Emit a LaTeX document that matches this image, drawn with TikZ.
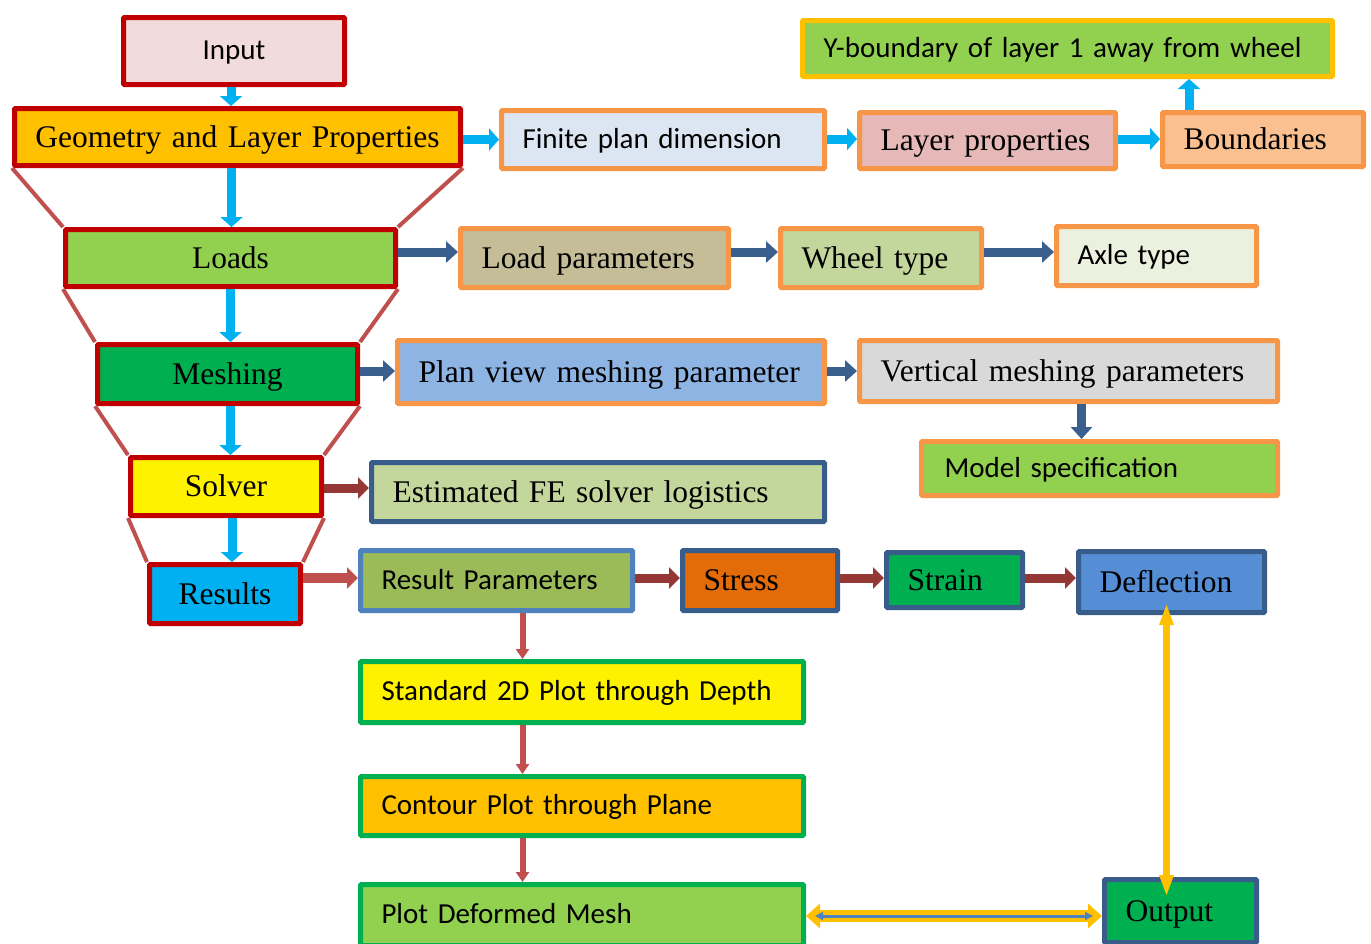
\documentclass[tikz,border=0pt]{standalone}
\usepackage{fontspec}
\setmainfont{Liberation Serif}
\newfontfamily\calib{Carlito}
\usetikzlibrary{arrows.meta}
\definecolor{redB}{HTML}{C00000}
\definecolor{orB}{HTML}{F79646}
\definecolor{goldB}{HTML}{FFC000}
\definecolor{navyB}{HTML}{385D8A}
\definecolor{steelB}{HTML}{4F81BD}
\definecolor{greenB}{HTML}{00B050}
\definecolor{cyanC}{HTML}{00B0F0}
\definecolor{blueA}{HTML}{3A5F8E}
\definecolor{dredA}{HTML}{953735}
\definecolor{lredA}{HTML}{C0504D}
\definecolor{fPink}{HTML}{F2DCDB}
\definecolor{fLblue}{HTML}{DCE6F2}
\definecolor{fRose}{HTML}{E6B9B8}
\definecolor{fPeach}{HTML}{FAC090}
\definecolor{fLgreen}{HTML}{92D050}
\definecolor{fTan}{HTML}{C4BD97}
\definecolor{fOlive}{HTML}{C3D69B}
\definecolor{fPale}{HTML}{EBF1DE}
\definecolor{fSky}{HTML}{8EB4E3}
\definecolor{fGray}{HTML}{D9D9D9}
\definecolor{fMid}{HTML}{9BBB59}
\definecolor{fOrange}{HTML}{E36C09}
\definecolor{fBlue}{HTML}{558ED5}
% name, style, x1, y1, x2, y2, horizontal padding, text
\newcommand\bx[8]{%
  \pgfmathsetmacro\bxw{#5-#3-5}\pgfmathsetmacro\bxh{#6-#4-5}%
  \pgfmathsetmacro\bxt{#5-#3-5-2*#7}%
  \pgfmathsetmacro\bxx{(#3+#5)/2}\pgfmathsetmacro\bxy{(#4+#6)/2}%
  \node[base,#2,inner xsep=#7pt,minimum width=\bxw pt,minimum height=\bxh pt,text width=\bxt pt] (#1) at (\bxx,\bxy) {#8};}
\begin{document}
\begin{tikzpicture}[x=1pt,y=-1pt,
  base/.style={line width=5pt, inner ysep=0pt, rounded corners=1pt, align=left},
  ctr/.style={align=center},
  serif/.style={font=\fontsize{31.5}{36}\selectfont, text height=28pt, text depth=7.5pt},
  sans/.style={font=\calib\fontsize{29}{34}\selectfont, text height=25pt, text depth=8pt},
  redbox/.style={draw=redB, serif, ctr},
  orbox/.style={draw=orB},
  cyanarr/.style={draw=cyanC, line width=9pt, -{Triangle[width=22pt,length=10pt]}},
  bluearr/.style={draw=blueA, line width=9pt, -{Triangle[width=21pt,length=12pt]}},
  dredarr/.style={draw=dredA, line width=9pt, -{Triangle[width=21pt,length=11pt]}},
  lredarr/.style={draw=lredA, line width=10pt, -{Triangle[width=21pt,length=11pt]}},
  lredthin/.style={draw=lredA, line width=6pt, -{Triangle[width=13pt,length=10pt]}},
  funnel/.style={draw=lredA, line width=4pt}]
\useasboundingbox (0,0) rectangle (1371,943);
\clip (0,0) rectangle (1371,943);
% left column
\bx{input}{redbox,fill=fPink,sans}{121}{15}{347}{87}{4}{Input}
\bx{geo}{redbox,fill=goldB}{12}{106}{463}{168}{2}{Geometry and Layer Properties}
\bx{loads}{redbox,fill=fLgreen}{63}{227}{398}{289}{4}{Loads}
\bx{mesh}{redbox,fill=greenB}{95}{342}{360}{406}{4}{Meshing}
\bx{solver}{redbox,fill=yellow}{128}{455}{324}{518}{4}{Solver}
\bx{results}{redbox,fill=cyanC}{147}{562}{303}{626}{4}{Results}
% row 1
\bx{fin}{orbox,fill=fLblue,sans}{499}{108}{827}{171}{21}{Finite plan dimension}
\bx{layer}{orbox,fill=fRose,serif}{857}{110}{1118}{171}{21}{Layer properties}
\bx{bnd}{orbox,fill=fPeach,serif}{1160}{110}{1366}{169}{21}{Boundaries}
\bx{yb}{draw=goldB,fill=fLgreen,sans}{800}{18}{1335}{79}{21}{Y-boundary of layer 1 away from wheel}
% row 2
\bx{lp}{orbox,fill=fTan,serif}{458}{226}{731}{290}{21}{Load parameters}
\bx{wheel}{orbox,fill=fOlive,serif}{778}{226}{984}{290}{21}{Wheel type}
\bx{axle}{orbox,fill=fPale,sans}{1054}{224}{1259}{288}{21}{Axle type}
% row 3
\bx{plan}{orbox,fill=fSky,serif}{395}{338}{827}{406}{21}{Plan view meshing parameter}
\bx{vert}{orbox,fill=fGray,serif}{857}{338}{1280}{404}{21}{Vertical meshing parameters}
\bx{model}{orbox,fill=fLgreen,sans}{919}{439}{1280}{498}{23}{Model specification}
% row 4
\bx{est}{draw=navyB,fill=fOlive,serif}{369}{460}{827}{524}{21}{Estimated FE solver logistics}
% row 5
\bx{rp}{draw=steelB,fill=fMid,sans}{358}{548}{635}{613}{21}{Result Parameters}
\bx{stress}{draw=navyB,fill=fOrange,serif}{680}{548}{840}{613}{21}{Stress}
\bx{strain}{draw=navyB,fill=greenB,serif}{884}{550}{1025}{610}{21}{Strain}
\bx{defl}{draw=navyB,fill=fBlue,serif}{1076}{549}{1267}{615}{21}{Deflection}
% plots
\bx{std}{draw=greenB,fill=yellow,sans}{358}{659}{806}{725}{21}{Standard 2D Plot through Depth}
\bx{cont}{draw=greenB,fill=goldB,sans}{358}{774}{806}{838}{21}{Contour Plot through Plane}
\bx{pdm}{draw=greenB,fill=fLgreen,sans}{358}{882}{806}{948}{21}{Plot Deformed Mesh}
\bx{out}{draw=navyB,fill=greenB,serif}{1102}{877}{1259}{945}{21}{Output}
% funnel
\draw[funnel] (geo.south west) -- (loads.north west);
\draw[funnel] (geo.south east) -- (loads.north east);
\draw[funnel] (loads.south west) -- (mesh.north west);
\draw[funnel] (loads.south east) -- (mesh.north east);
\draw[funnel] (mesh.south west) -- (solver.north west);
\draw[funnel] (mesh.south east) -- (solver.north east);
\draw[funnel] (solver.south west) -- (results.north west);
\draw[funnel] (solver.south east) -- (results.north east);
% vertical cyan arrows
\draw[cyanarr] ([xshift=-3pt]input.south) -- ([xshift=-3pt]input.south |- geo.north);
\draw[cyanarr] ([xshift=-6pt]geo.south) -- ([xshift=-6pt]geo.south |- loads.north);
\draw[cyanarr] (loads.south) -- (loads.south |- mesh.north);
\draw[cyanarr] ([xshift=3pt]mesh.south) -- ([xshift=3pt]mesh.south |- solver.north);
\draw[cyanarr] ([xshift=6pt]solver.south) -- ([xshift=6pt]solver.south |- results.north);
% row 1 arrows
\draw[cyanarr] (geo.east |- fin.west) -- (fin.west);
\draw[cyanarr] (fin.east |- 0,139) -- (layer.west |- 0,139);
\draw[cyanarr] (layer.east |- 0,139) -- (bnd.west |- 0,139);
\draw[cyanarr] ([xshift=-74pt]bnd.north) -- ([xshift=-74pt]bnd.north |- yb.south);
% row 2 arrows
\draw[bluearr] (loads.east |- 0,252) -- (lp.west |- 0,252);
\draw[bluearr] (lp.east |- 0,252) -- (wheel.west |- 0,252);
\draw[bluearr] (wheel.east |- 0,252) -- (axle.west |- 0,252);
% row 3 arrows
\draw[bluearr] (mesh.east |- 0,371) -- (plan.west |- 0,371);
\draw[bluearr] (plan.east |- 0,371) -- (vert.west |- 0,371);
\draw[bluearr] ([xshift=13pt]vert.south) -- ([xshift=13pt]vert.south |- model.north);
% row 4
\draw[dredarr] (solver.east |- 0,488) -- (est.west |- 0,488);
% row 5
\draw[lredarr] (results.east |- 0,578) -- (rp.west |- 0,578);
\draw[dredarr] (rp.east |- 0,578) -- (stress.west |- 0,578);
\draw[dredarr] (stress.east |- 0,578) -- (strain.west |- 0,578);
\draw[dredarr] (strain.east |- 0,578) -- (defl.west |- 0,578);
% plots chain
\draw[lredthin] ([xshift=26pt]rp.south) -- ([xshift=26pt]rp.south |- std.north);
\draw[lredthin] ([xshift=26pt]rp.south |- std.south) -- ([xshift=26pt]rp.south |- cont.north);
\draw[lredthin] ([xshift=26pt]rp.south |- cont.south) -- ([xshift=26pt]rp.south |- pdm.north);
% output links
\draw[draw=goldB, line width=7pt, {Triangle[width=13pt,length=22pt]}-{Triangle[width=13pt,length=22pt]}]
  ([xshift=-5pt,yshift=12pt]defl.south) -- ([xshift=-5pt,yshift=-20pt]defl.south |- out.north);
\draw[draw=goldB, line width=12pt, {Triangle[width=24pt,length=14pt]}-{Triangle[width=24pt,length=14pt]}]
  (pdm.east |- 0,916) -- (out.west |- 0,916);
\draw[draw=steelB, line width=3pt, {Triangle[width=8pt,length=8pt]}-{Triangle[width=8pt,length=8pt]}]
  ([xshift=9pt]pdm.east |- 0,916) -- ([xshift=-9pt]out.west |- 0,916);
\end{tikzpicture}
\end{document}
